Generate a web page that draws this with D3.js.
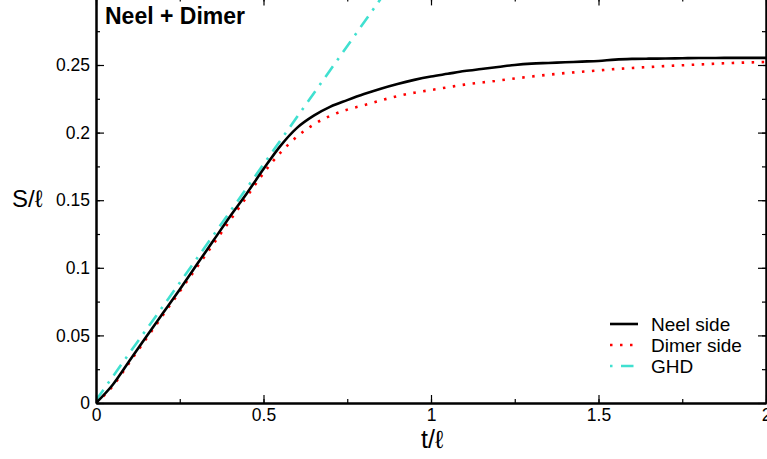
<!DOCTYPE html>
<html>
<head>
<meta charset="utf-8">
<script src="https://cdn.jsdelivr.net/npm/d3@7"></script>
<style>
  body { margin: 0; background: #fff; }
  text { font-family: "Liberation Sans", Arial, sans-serif; }
</style>
</head>
<body>
<svg id="chart" width="767" height="459"></svg>
<script>
// data
const tValues = [0, 0.05, 0.1, 0.15, 0.2, 0.25, 0.3, 0.35, 0.4, 0.45, 0.5, 0.55, 0.6, 0.65, 0.7, 0.75, 0.8, 0.85, 0.9, 0.95,
  1.0, 1.05, 1.1, 1.15, 1.2, 1.25, 1.3, 1.35, 1.4, 1.45, 1.5, 1.55, 1.6, 1.65, 1.7, 1.75, 1.8, 1.85, 1.9, 1.95, 2.0];
const neelSide = [0, 0.0135, 0.0312, 0.049, 0.0665, 0.084, 0.102, 0.120, 0.138, 0.155, 0.173, 0.190, 0.2035, 0.2125, 0.2192, 0.224, 0.2285, 0.2325, 0.236, 0.239,
  0.2415, 0.2435, 0.2455, 0.247, 0.2485, 0.25, 0.251, 0.2515, 0.252, 0.2525, 0.253, 0.254, 0.2545, 0.2547, 0.2548, 0.255, 0.2552, 0.2552, 0.2553, 0.2553, 0.2553];
const dimerSide = [0, 0.0125, 0.030, 0.0475, 0.065, 0.0825, 0.100, 0.1175, 0.135, 0.1525, 0.170, 0.185, 0.197, 0.206, 0.2125, 0.217, 0.2203, 0.2238, 0.227, 0.2295,
  0.2315, 0.2335, 0.2355, 0.237, 0.2385, 0.24, 0.2415, 0.2428, 0.244, 0.245, 0.246, 0.247, 0.2478, 0.2485, 0.2492, 0.2498, 0.2504, 0.251, 0.2515, 0.2519, 0.2522];
const ghdT = [0, 0.1, 0.2, 0.3, 0.5, 0.7, 0.9];
const ghd = [0.002, 0.037, 0.0715, 0.1065, 0.1765, 0.2465, 0.3165];

const xTicks = [0, 0.5, 1, 1.5, 2];
const xTickLabels = ["0", "0.5", "1", "1.5", "2"];
const yTicks = [0, 0.05, 0.1, 0.15, 0.2, 0.25];
const yTickLabels = ["0", "0.05", "0.1", "0.15", "0.2", "0.25"];

const legendNames = ["Neel side", "Dimer side", "GHD"];

const svg = d3.select("#chart");

const x = d3.scaleLinear().domain([0, 2]).range([96, 766]);
const y = d3.scaleLinear().domain([0, 0.3]).range([403, -2.6]);

// clip for plot area
svg.append("defs").append("clipPath").attr("id", "clip")
  .append("rect").attr("x", 96).attr("y", -3).attr("width", 670).attr("height", 406);

const styles = [
  { color: "#000", width: 2.6, dash: null },
  { color: "#ff0000", width: 2.6, dash: "2.5,7.5" },
  { color: "#40e0d0", width: 2.6, dash: "13,7.5,2.5,7.5" }
];

const line = d3.line().x(d => x(d[0])).y(d => y(d[1]));

const plot = svg.append("g").attr("clip-path", "url(#clip)");

plot.append("path")
  .datum(ghdT.map((t, i) => [t, ghd[i]]))
  .attr("d", line).attr("fill", "none")
  .attr("stroke", styles[2].color).attr("stroke-width", styles[2].width)
  .attr("stroke-dasharray", styles[2].dash);

plot.append("path")
  .datum(tValues.map((t, i) => [t, dimerSide[i]]))
  .attr("d", line.curve(d3.curveMonotoneX)).attr("fill", "none")
  .attr("stroke", styles[1].color).attr("stroke-width", styles[1].width)
  .attr("stroke-dasharray", styles[1].dash);

plot.append("path")
  .datum(tValues.map((t, i) => [t, neelSide[i]]))
  .attr("d", line.curve(d3.curveMonotoneX)).attr("fill", "none")
  .attr("stroke", styles[0].color).attr("stroke-width", styles[0].width);

// axes: ticks point inward
const xMinor = d3.range(0, 2.01, 0.25);
const yMinor = d3.range(0, 0.301, 0.025);

const xAxisB = d3.axisBottom(x).tickValues(xTicks).tickFormat((d, i) => xTickLabels[i]).tickSizeInner(-8).tickSizeOuter(0).tickPadding(6);
svg.append("g").attr("transform", "translate(0,403)").call(xAxisB);
const xAxisT = d3.axisTop(x).tickValues(xTicks).tickFormat("").tickSizeInner(-8).tickSizeOuter(0);
svg.append("g").attr("transform", "translate(0," + y(0.3) + ")").call(xAxisT);

const yAxisL = d3.axisLeft(y).tickValues(yTicks).tickFormat((d, i) => yTickLabels[i]).tickSizeInner(-8).tickSizeOuter(0).tickPadding(6);
svg.append("g").attr("transform", "translate(96,0)").call(yAxisL);
const yAxisR = d3.axisRight(y).tickValues(yTicks).tickFormat("").tickSizeInner(-8).tickSizeOuter(0);
svg.append("g").attr("transform", "translate(766,0)").call(yAxisR);

// minor ticks
svg.append("g").attr("transform", "translate(0,403)")
  .call(d3.axisBottom(x).tickValues(xMinor).tickFormat("").tickSizeInner(-4).tickSizeOuter(0));
svg.append("g").attr("transform", "translate(0," + y(0.3) + ")")
  .call(d3.axisTop(x).tickValues(xMinor).tickFormat("").tickSizeInner(-4).tickSizeOuter(0));
svg.append("g").attr("transform", "translate(96,0)")
  .call(d3.axisLeft(y).tickValues(yMinor).tickFormat("").tickSizeInner(-4).tickSizeOuter(0));
svg.append("g").attr("transform", "translate(766,0)")
  .call(d3.axisRight(y).tickValues(yMinor).tickFormat("").tickSizeInner(-4).tickSizeOuter(0));

svg.selectAll(".domain").attr("stroke", "#000").attr("stroke-width", 2);
svg.selectAll(".tick line").attr("stroke", "#000").attr("stroke-width", 1.2);
svg.selectAll(".tick text").attr("font-size", 17.5).attr("fill", "#000")
  .style("font-family", "Liberation Sans, Arial, sans-serif");

// axis labels
svg.append("text").attr("x", 432).attr("y", 448).attr("text-anchor", "middle")
  .attr("font-size", 25).text("t/ℓ");
svg.append("text").attr("x", 12).attr("y", 207)
  .attr("font-size", 24).text("S/ℓ");

// title
svg.append("text").attr("x", 105).attr("y", 24).attr("font-size", 23)
  .attr("font-weight", "bold").text("Neel + Dimer");

// legend
const legendDash = [null, "2.5,7.5", "2.5,8.5,12.5,10"];
const legend = svg.append("g");
legendNames.forEach((name, i) => {
  const ly = 324 + i * 21;
  legend.append("line").attr("x1", 610).attr("x2", 638).attr("y1", ly).attr("y2", ly)
    .attr("stroke", styles[i].color).attr("stroke-width", styles[i].width)
    .attr("stroke-dasharray", legendDash[i]);
  legend.append("text").attr("x", 651).attr("y", ly + 6.5).attr("font-size", 19).text(name);
});
</script>
</body>
</html>
